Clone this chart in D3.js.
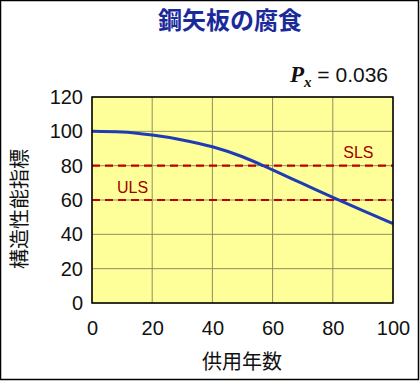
<!DOCTYPE html>
<html><head><meta charset="utf-8">
<script src="https://cdn.jsdelivr.net/npm/d3@7"></script>
<style>body{margin:0;background:#fff}svg{display:block}</style>
</head><body>
<script>
const years = [0, 10, 20, 30, 40, 50, 60, 70, 80, 90, 100];
const index = [100, 99.6, 97.8, 95, 91, 85.2, 77.5, 69.5, 61.5, 53.8, 46.3];
const limits = [{name: "SLS", value: 80}, {name: "ULS", value: 60}];
const xTicks = [0, 20, 40, 60, 80, 100];
const yTicks = [0, 20, 40, 60, 80, 100, 120];

const W = 420, H = 381;
const svg = d3.select("body").append("svg").attr("width", W).attr("height", H);
svg.append("rect").attr("x", 0.5).attr("y", 0.5).attr("width", W - 2).attr("height", H - 2)
  .attr("fill", "#fff").attr("stroke", "#000").attr("stroke-width", 1.5);

const m = {l: 92, r: 393, t: 97, b: 303};
const x = d3.scaleLinear().domain([0, 100]).range([m.l, m.r]);
const y = d3.scaleLinear().domain([0, 120]).range([m.b, m.t]);

svg.append("rect").attr("x", m.l).attr("y", m.t).attr("width", m.r - m.l).attr("height", m.b - m.t)
  .attr("fill", "#ffff99");

const g = svg.append("g");
g.selectAll(".vg").data(xTicks).join("line")
  .attr("x1", d => x(d)).attr("x2", d => x(d)).attr("y1", m.t).attr("y2", m.b)
  .attr("stroke", "#8f8f60").attr("stroke-width", 1);
g.selectAll(".hg").data(yTicks).join("line")
  .attr("x1", m.l).attr("x2", m.r).attr("y1", d => y(d)).attr("y2", d => y(d))
  .attr("stroke", "#8f8f60").attr("stroke-width", 1);

const xAxis = svg.append("g").attr("transform", `translate(0,${m.b})`)
  .call(d3.axisBottom(x).tickValues(xTicks).tickSize(0).tickPadding(18));
const yAxis = svg.append("g").attr("transform", `translate(${m.l},0)`)
  .call(d3.axisLeft(y).tickValues(yTicks).tickSize(0).tickPadding(9));
[xAxis, yAxis].forEach(a => {
  a.select(".domain").remove();
  a.selectAll("text").attr("font-family", "Liberation Sans, Arial, sans-serif")
    .attr("font-size", 20).attr("fill", "#111");
});
xAxis.selectAll("text").attr("dy", "0.71em");

// limit lines
svg.selectAll(".lim").data(limits).join("line")
  .attr("x1", m.l).attr("x2", m.r).attr("y1", d => y(d.value)).attr("y2", d => y(d.value))
  .attr("stroke", "#c00000").attr("stroke-width", 2.2).attr("stroke-dasharray", "8,5");

svg.append("text").attr("x", x(88.5)).attr("y", y(80) - 8).attr("text-anchor", "middle")
  .attr("font-family", "Liberation Sans, Arial, sans-serif").attr("font-size", 16).attr("fill", "#a00000")
  .text(limits[0].name);
svg.append("text").attr("x", x(13.5)).attr("y", y(60) - 7).attr("text-anchor", "middle")
  .attr("font-family", "Liberation Sans, Arial, sans-serif").attr("font-size", 16).attr("fill", "#a00000")
  .text(limits[1].name);

// curve
const line = d3.line().x((d, i) => x(years[i])).y(d => y(d)).curve(d3.curveMonotoneX);
svg.append("path").datum(index).attr("d", line).attr("fill", "none")
  .attr("stroke", "#1f3cb4").attr("stroke-width", 3);

// frame
svg.append("rect").attr("x", m.l).attr("y", m.t).attr("width", m.r - m.l).attr("height", m.b - m.t)
  .attr("fill", "none").attr("stroke", "#000").attr("stroke-width", 1.5);

// title
svg.append("text").attr("x", 230).attr("y", 29).attr("text-anchor", "middle")
  .attr("font-family", "Noto Sans CJK JP, sans-serif").attr("font-weight", "bold")
  .attr("font-size", 24).attr("fill", "#1a2a9a").text("鋼矢板の腐食");

// Px
const px = svg.append("text").attr("x", 388).attr("y", 82).attr("text-anchor", "end")
  .attr("font-family", "Liberation Sans, Arial, sans-serif").attr("font-size", 21).attr("fill", "#111");
px.append("tspan").attr("font-family", "Liberation Serif, Times New Roman, serif")
  .attr("font-weight", "bold").attr("font-style", "italic").attr("font-size", 23).text("P");
px.append("tspan").attr("font-family", "Liberation Serif, Times New Roman, serif")
  .attr("font-weight", "bold").attr("font-style", "italic").attr("font-size", 15).attr("dy", 5).text("x");
px.append("tspan").attr("dy", -5).text(" = 0.036");

// axis titles
svg.append("text").attr("x", 242).attr("y", 369).attr("text-anchor", "middle")
  .attr("font-family", "Noto Sans CJK JP, sans-serif").attr("font-size", 20).attr("fill", "#111").text("供用年数");
svg.append("text").attr("transform", "translate(27,209) rotate(-90)").attr("text-anchor", "middle")
  .attr("font-family", "Noto Sans CJK JP, sans-serif").attr("font-size", 20).attr("fill", "#111").text("構造性能指標");
</script>
</body></html>
